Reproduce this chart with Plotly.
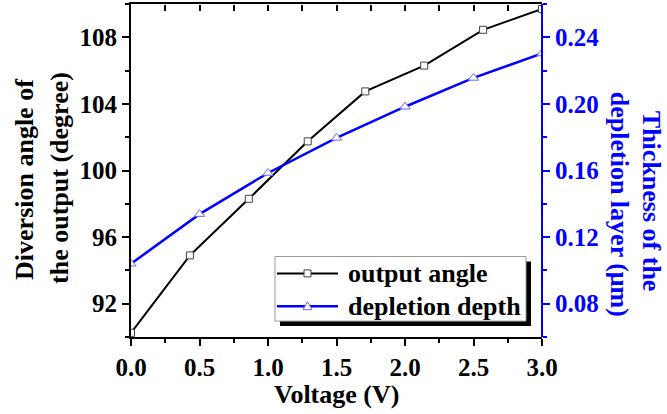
import plotly.graph_objects as go

# Output angle vs. bias voltage (left axis)
angle_voltage = [0.0, 0.43, 0.86, 1.29, 1.71, 2.14, 2.57, 3.0]
angle_deg = [90.25, 94.9, 98.3, 101.75, 104.75, 106.3, 108.45, 109.7]

# Depletion layer thickness vs. bias voltage (right axis)
depth_voltage = [0.0, 0.5, 1.0, 1.5, 2.0, 2.5, 3.0]
depth_um = [0.104, 0.1338, 0.1585, 0.1796, 0.1983, 0.2156, 0.2303]

x_ticks = [0.0, 0.5, 1.0, 1.5, 2.0, 2.5, 3.0]
x_ticktext = ["0.0", "0.5", "1.0", "1.5", "2.0", "2.5", "3.0"]

series_names = ["output angle", "depletion depth"]

FONT = "Liberation Serif"
BLUE = "#0000ff"
SQ_EDGE = "#444"
TRI_EDGE = "#6a6aff"

L, R, T, B = 131, 125, 2, 77
W, H = 667, 414
PW, PH = W - L - R, H - T - B


def px(x):
    """page pixel column -> paper x"""
    return (x - L) / PW


def py(y):
    """page pixel row -> paper y"""
    return (H - B - y) / PH


fig = go.Figure()
fig.add_trace(go.Scatter(
    x=angle_voltage, y=angle_deg, name=series_names[0], mode="lines+markers",
    xaxis="x", yaxis="y", showlegend=False,
    line=dict(color="black", width=2),
    marker=dict(symbol="square", size=7, color="white", line=dict(color=SQ_EDGE, width=1)),
))
# depth curve lives on the top/right axis pair (top axis carries the inward ticks)
fig.add_trace(go.Scatter(
    x=depth_voltage, y=depth_um, name=series_names[1], mode="lines+markers",
    xaxis="x2", yaxis="y2", showlegend=False,
    line=dict(color=BLUE, width=2.5),
    marker=dict(symbol="triangle-up", size=9, color="white", line=dict(color=TRI_EDGE, width=1)),
))

tickfont = dict(family=FONT, size=25, color="black", weight="bold")

fig.update_layout(
    width=W, height=H,
    margin=dict(l=L, r=R, t=T, b=B, pad=0),
    plot_bgcolor="white", paper_bgcolor="white",
    showlegend=False,
    xaxis=dict(
        range=[0, 3], tickvals=x_ticks, ticktext=x_ticktext,
        showgrid=False, zeroline=False,
        showline=True, linecolor="black", linewidth=2, mirror=True,
        ticks="outside", ticklen=7, tickwidth=2, tickcolor="black",
        minor=dict(dtick=0.25, tick0=0, ticks="outside", ticklen=4, tickwidth=2, tickcolor="black"),
        tickfont=tickfont,
    ),
    xaxis2=dict(
        range=[0, 3], overlaying="x", side="top", anchor="free", position=1,
        showgrid=False, zeroline=False, showline=False, showticklabels=False,
        dtick=0.5, tick0=0, ticks="inside", ticklen=6, tickwidth=2, tickcolor="black",
        minor=dict(dtick=0.25, tick0=0, ticks="inside", ticklen=6, tickwidth=2, tickcolor="black"),
    ),
    yaxis=dict(
        range=[90, 110], dtick=4, tick0=92,
        showgrid=False, zeroline=False,
        showline=True, linecolor="black", linewidth=2,
        ticks="outside", ticklen=7, tickwidth=2, tickcolor="black",
        minor=dict(dtick=2, tick0=90, ticks="outside", ticklen=4, tickwidth=2, tickcolor="black"),
        tickfont=tickfont,
    ),
    yaxis2=dict(
        range=[0.06, 0.26], dtick=0.04, tick0=0.08, tickformat=".2f",
        overlaying="y", side="right", anchor="free", position=1,
        showgrid=False, zeroline=False,
        showline=True, linecolor=BLUE, linewidth=2,
        ticks="outside", ticklen=7, tickwidth=2, tickcolor=BLUE,
        minor=dict(dtick=0.02, tick0=0.06, ticks="outside", ticklen=4, tickwidth=2, tickcolor=BLUE),
        tickfont=dict(family=FONT, size=25, color=BLUE, weight="bold"),
    ),
)

# ---- legend box with drop shadow ----
box_l, box_t, box_r, box_b = 275, 256, 526, 321
shadow = 5
row_y = [273, 306]
sample_l, sample_r = 277, 338
text_x = 346
mid = (sample_l + sample_r) / 2

shapes = [
    dict(type="rect", x0=px(box_l + shadow), x1=px(box_r + shadow),
         y0=py(box_b + shadow), y1=py(box_t + shadow),
         fillcolor="black", line=dict(width=0)),
    dict(type="rect", x0=px(box_l), x1=px(box_r), y0=py(box_b), y1=py(box_t),
         fillcolor="white", line=dict(color="#999", width=1)),
    dict(type="line", x0=px(sample_l), x1=px(sample_r), y0=py(row_y[0]), y1=py(row_y[0]),
         line=dict(color="black", width=2)),
    dict(type="line", x0=px(sample_l), x1=px(sample_r), y0=py(row_y[1]), y1=py(row_y[1]),
         line=dict(color=BLUE, width=2.5)),
    dict(type="rect", x0=px(mid - 3.5), x1=px(mid + 3.5),
         y0=py(row_y[0] + 3.5), y1=py(row_y[0] - 3.5),
         fillcolor="white", line=dict(color=SQ_EDGE, width=1)),
    dict(type="path",
         path=(f"M {px(mid - 4.5)},{py(row_y[1] + 3.5)} L {px(mid + 4.5)},{py(row_y[1] + 3.5)} "
               f"L {px(mid)},{py(row_y[1] - 4.5)} Z"),
         fillcolor="white", line=dict(color=TRI_EDGE, width=1)),
]
for s in shapes:
    fig.add_shape(xref="paper", yref="paper", layer="above", **s)

legend_font = dict(family=FONT, size=26, color="black", weight="bold")
for name, ry in zip(series_names, row_y):
    fig.add_annotation(text=name, xref="paper", yref="paper", x=px(text_x), y=py(ry),
                       xanchor="left", yanchor="middle", showarrow=False, font=legend_font)

# ---- axis titles ----
title_font = dict(family=FONT, size=26, color="black", weight="bold")
blue_title_font = dict(family=FONT, size=26, color=BLUE, weight="bold")
ann = [
    dict(text="Voltage (V)", x=0.5, y=py(395), font=title_font, textangle=0),
    dict(text="Diversion angle of", x=px(25), y=py(178), font=title_font, textangle=-90),
    dict(text="the output (degree)", x=px(60), y=py(177), font=title_font, textangle=-90),
    dict(text="Thickness of the", x=px(651), y=py(200), font=blue_title_font, textangle=90),
    dict(text="depletion layer (μm)", x=px(619), y=py(203), font=blue_title_font, textangle=90),
]
for a in ann:
    fig.add_annotation(xref="paper", yref="paper", xanchor="center", yanchor="middle",
                       showarrow=False, **a)

fig.write_html("out.html")
